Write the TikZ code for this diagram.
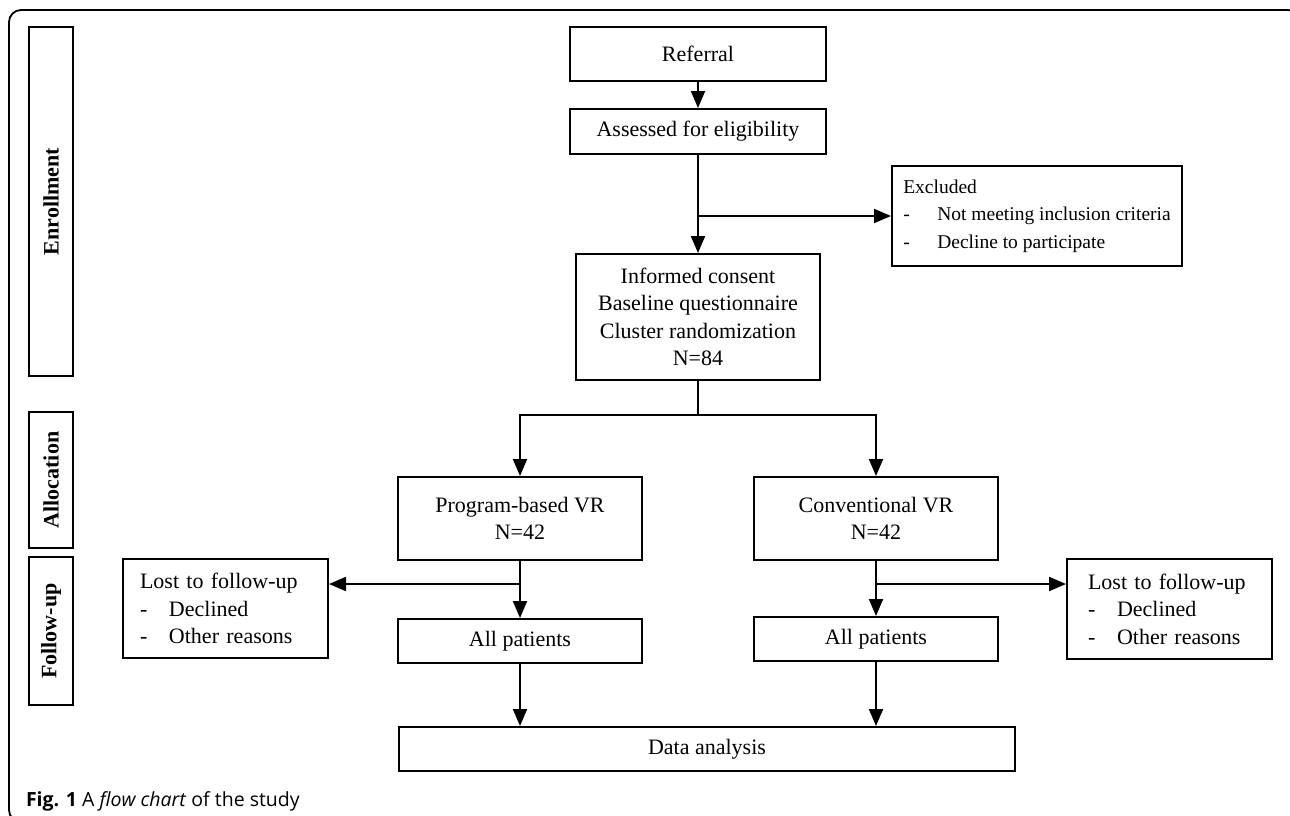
\documentclass[tikz,border=0pt]{standalone}
\usepackage{fontspec}
\setmainfont{Liberation Serif}
\setsansfont{Open Sans}
\usepackage{tikz}
\usetikzlibrary{positioning, arrows.meta}

\newcommand{\dashitem}[2][29pt]{\makebox[#1][l]{-}#2}

\begin{document}
\begin{tikzpicture}[
    x = 1pt, y = -1pt,
    line width = 2pt,
    node distance = 26pt,
    every node/.style = {font=\fontsize{22}{27.5}\selectfont},
    box/.style = {draw, rectangle, align=center, inner sep=2pt},
    listbox/.style = {draw, rectangle, align=left, inner ysep=2pt},
    side/.style = {
        draw, rectangle, rotate=90, minimum height=44pt,
        font=\fontsize{22}{27}\selectfont\bfseries
    },
    arr/.style = {-{Triangle[length=17pt, width=14pt]}}
  ]
    \useasboundingbox (0,0) rectangle (1290,816);
    \draw[line width=1.8pt, rounded corners=12pt] (1300,24) |- (9,10) -- (9,822) -- (40,822);  % frame

    \node[side, minimum width=349pt] (enroll) at (51,201.5) {Enrollment};
    \node[side, minimum width=136pt] (alloc) at (51,480) {Allocation};
    \node[side, minimum width=148pt] (follow) at (51,631) {Follow-up};

    \node[box, minimum width=256pt, minimum height=54pt] (referral) at (698,54) {Referral};
    \node[box, minimum width=256pt, minimum height=45pt, below=of referral] (assess) {Assessed for eligibility};
    \node[box, minimum width=244pt, minimum height=126pt, below=98pt of assess] (consent)
        {Informed consent\\Baseline questionnaire\\Cluster randomization\\N=84};
    \node[listbox, minimum width=290pt, minimum height=100pt,
          font=\fontsize{19.5}{27.5}\selectfont] (excluded) at (1037,216)
        {Excluded\\\dashitem[34pt]{Not meeting inclusion criteria}\\\dashitem[34pt]{Decline to participate}};

    \node[box, minimum width=244pt, minimum height=83pt] (program) at (520,518.5) {Program-based VR\\N=42};
    \node[box, minimum width=244pt, minimum height=83pt, right=110pt of program] (conventional) {Conventional VR\\N=42};
    \node[box, minimum width=244pt, minimum height=44pt, below=57pt of program] (allL) {All patients};
    \node[box, minimum width=244pt, minimum height=44pt, below=55pt of conventional] (allR) {All patients};
    \node[listbox, inner xsep=17pt, text width=171pt, minimum height=99pt] (lostL) at (225.5,608.5)
        {Lost to follow-up\\\dashitem{Declined}\\\dashitem{Other reasons}};
    \node[listbox, inner xsep=21pt, text width=163pt, minimum height=100pt] (lostR) at (1169.5,609)
        {Lost to follow-up\\\dashitem{Declined}\\\dashitem{Other reasons}};
    \node[box, minimum width=616pt, minimum height=44pt] (data) at (707,749) {Data analysis};

    \node[anchor=base west, inner sep=0pt, font=\sffamily\fontsize{19.5}{23}\selectfont] (caption) at (25,806)
        {\textbf{Fig. 1} A \textit{flow chart} of the study};

    % connectors
    \draw[arr] (referral) -- (assess);
    \draw[arr] (assess) -- (consent);
    \coordinate (exsplit) at (assess.south |- excluded.west);
    \draw[arr] (exsplit) -- (excluded);
    \path (consent.south) ++(0,34) coordinate (split);
    \draw (consent) -- (split);
    \draw[arr] (split) -| (program);
    \draw[arr] (split) -| (conventional);
    \path (program.south) ++(0,23) coordinate (leftsplit);
    \path (conventional.south) ++(0,23) coordinate (rightsplit);
    \draw[arr] (program) -- (allL);
    \draw[arr] (conventional) -- (allR);
    \draw[arr] (leftsplit) -- (leftsplit -| lostL.east);
    \draw[arr] (rightsplit) -- (rightsplit -| lostR.west);
    \draw[arr] (allL) -- (allL.south |- data.north);
    \draw[arr] (allR) -- (allR.south |- data.north);
\end{tikzpicture}
\end{document}
